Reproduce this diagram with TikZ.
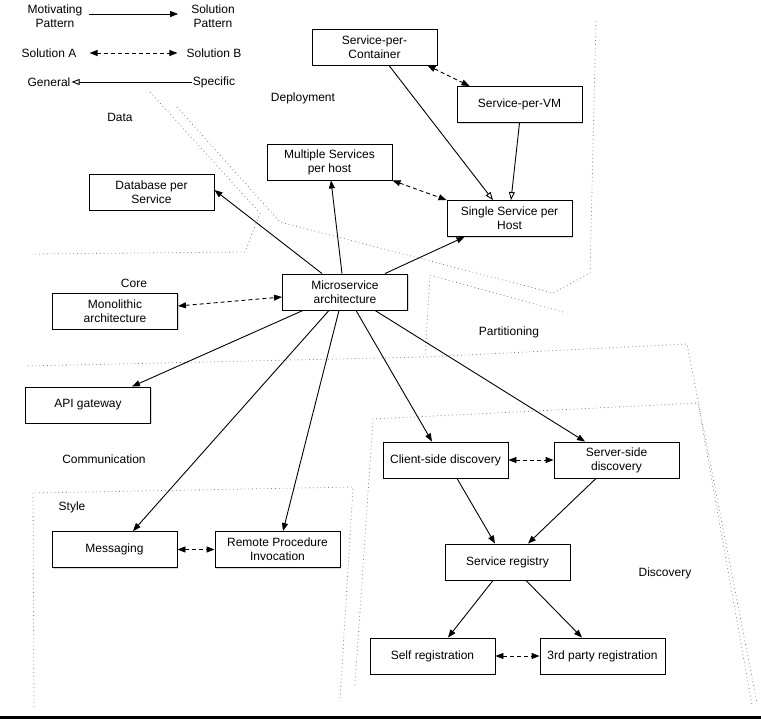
\documentclass[tikz,border=0pt]{standalone}
\usepackage{fontspec}
\setmainfont{Liberation Sans}
\usetikzlibrary{arrows.meta,shadows}

\begin{document}
\begin{tikzpicture}[x=1pt,y=-1pt,font=\fontsize{12}{14}\selectfont,
	patbox/.style={draw,line width=0.9pt,fill=white,minimum width=125pt,minimum height=36pt,inner sep=0pt,align=center,
		drop shadow={shadow xshift=1.2pt,shadow yshift=-1.2pt,opacity=0.3}},
	legend/.style={inner sep=1pt,align=center},
	solves/.style={line width=0.9pt,-{Triangle[length=8pt,width=6pt]}},
	altern/.style={line width=0.9pt,dash pattern=on 4pt off 3pt,{Triangle[length=8pt,width=6pt]}-{Triangle[length=8pt,width=6pt]}},
	refines/.style={line width=0.9pt,-{Triangle[open,length=8pt,width=6pt]}},
	region/.style={gray,line width=0.8pt,dash pattern=on 0.8pt off 3pt}]
	\useasboundingbox (0,0) rectangle (761,719);
	\fill (0,716) rectangle (761,719);

	% regions
	\draw[region] (150,92) -- (260,213) -- (245,252) -- (32,254);
	\draw[region] (177,107) -- (280,222) -- (553,293) -- (590,273) -- (596,20);
	\draw[region] (563,312) -- (430,275) -- (425,357);
	\draw[region] (28,366) -- (425,357) -- (687,344) -- (757,703);
	\draw[region] (355,685) -- (373,419) -- (698,403) -- (752,705);
	\draw[region] (34,707) -- (33,493) -- (353,487) -- (340,700);

	\node[legend] at (120,117) {Data};
	\node[legend] at (303,98) {Deployment};
	\node[legend] at (134,283) {Core};
	\node[legend] at (509,332) {Partitioning};
	\node[legend] at (104,459) {Communication};
	\node[legend] at (72,507) {Style};
	\node[legend] at (665,573) {Discovery};

	% legend
	\node[legend] (mot) at (55,16) {Motivating\\Pattern};
	\node[legend] (sol) at (213,16) {Solution\\Pattern};
	\node[legend] (solA) at (49,53) {Solution A};
	\node[legend] (solB) at (214,53) {Solution B};
	\node[legend] (gen) at (49,82) {General};
	\node[legend] (spec) at (214,82) {Specific};
	\draw[solves] ([xshift=5pt,yshift=2pt]mot.east) -- ([xshift=-12pt,yshift=2pt]sol.west);
	\draw[altern] ([xshift=12pt]solA.east) -- ([xshift=-8pt]solB.west);
	\draw[refines] (spec.west) -- (gen.east);

	% patterns
	\node[patbox] (container) at (374.5,47) {Service-per-\\Container};
	\node[patbox] (vm) at (519.5,104.5) {Service-per-VM};
	\node[patbox] (single) at (509.5,218.5) {Single Service per\\Host};
	\node[patbox] (multi) at (329.5,162) {Multiple Services\\per host};
	\node[patbox] (dbps) at (151.5,192) {Database per\\Service};
	\node[patbox] (micro) at (345,292) {Microservice\\architecture};
	\node[patbox] (mono) at (115,311) {Monolithic\\architecture};
	\node[patbox] (apigw) at (88,405) {API gateway};
	\node[patbox] (msg) at (114.5,549.5) {Messaging};
	\node[patbox] (rpi) at (277.5,549.5) {Remote Procedure\\Invocation};
	\node[patbox] (client) at (445.5,460) {Client-side discovery};
	\node[patbox] (server) at (616.5,460) {Server-side\\discovery};
	\node[patbox] (registry) at (507.5,562) {Service registry};
	\node[patbox] (self) at (432.5,656) {Self registration};
	\node[patbox] (third) at (602.5,656) {3rd party registration};

	\draw[solves] ([xshift=-23pt]micro.north) -- ([yshift=2pt]dbps.east);
	\draw[solves] ([xshift=-3pt]micro.north) -- ([xshift=1.5pt]multi.south);
	\draw[solves] ([xshift=40pt]micro.north) -- ([xshift=-45pt]single.south);
	\draw[refines] ([xshift=14.5pt]container.south) -- ([xshift=-16.5pt]single.north);
	\draw[refines] (vm.south) -- ([xshift=1.5pt]single.north);
	\draw[altern] ([xshift=-10pt]container.south east) -- ([xshift=13pt]vm.north west);
	\draw[altern] (multi.south east) -- (single.north west);
	\draw[altern] ([yshift=5pt]mono.east) -- ([yshift=-5pt]micro.west);
	\draw[solves] ([xshift=-42pt]micro.south) -- ([xshift=44pt]apigw.north);
	\draw[solves] ([xshift=-16pt]micro.south) -- ([xshift=18.5pt]msg.north);
	\draw[solves] ([xshift=-6pt]micro.south) -- ([xshift=5.5pt]rpi.north);
	\draw[solves] ([xshift=11pt]micro.south) -- ([xshift=-13.5pt]client.north);
	\draw[solves] ([xshift=30pt]micro.south) -- ([xshift=-31.5pt]server.north);
	\draw[altern] (msg.east) -- (rpi.west);
	\draw[altern] (client.east) -- (server.west);
	\draw[solves] ([xshift=11.5pt]client.south) -- ([xshift=-12.5pt]registry.north);
	\draw[solves] ([xshift=-20.5pt]server.south) -- ([xshift=20.5pt]registry.north);
	\draw[solves] ([xshift=-14.5pt]registry.south) -- ([xshift=15.5pt]self.north);
	\draw[solves] ([xshift=18.5pt]registry.south) -- ([xshift=-20.5pt]third.north);
	\draw[altern] (self.east) -- (third.west);
\end{tikzpicture}
\end{document}
